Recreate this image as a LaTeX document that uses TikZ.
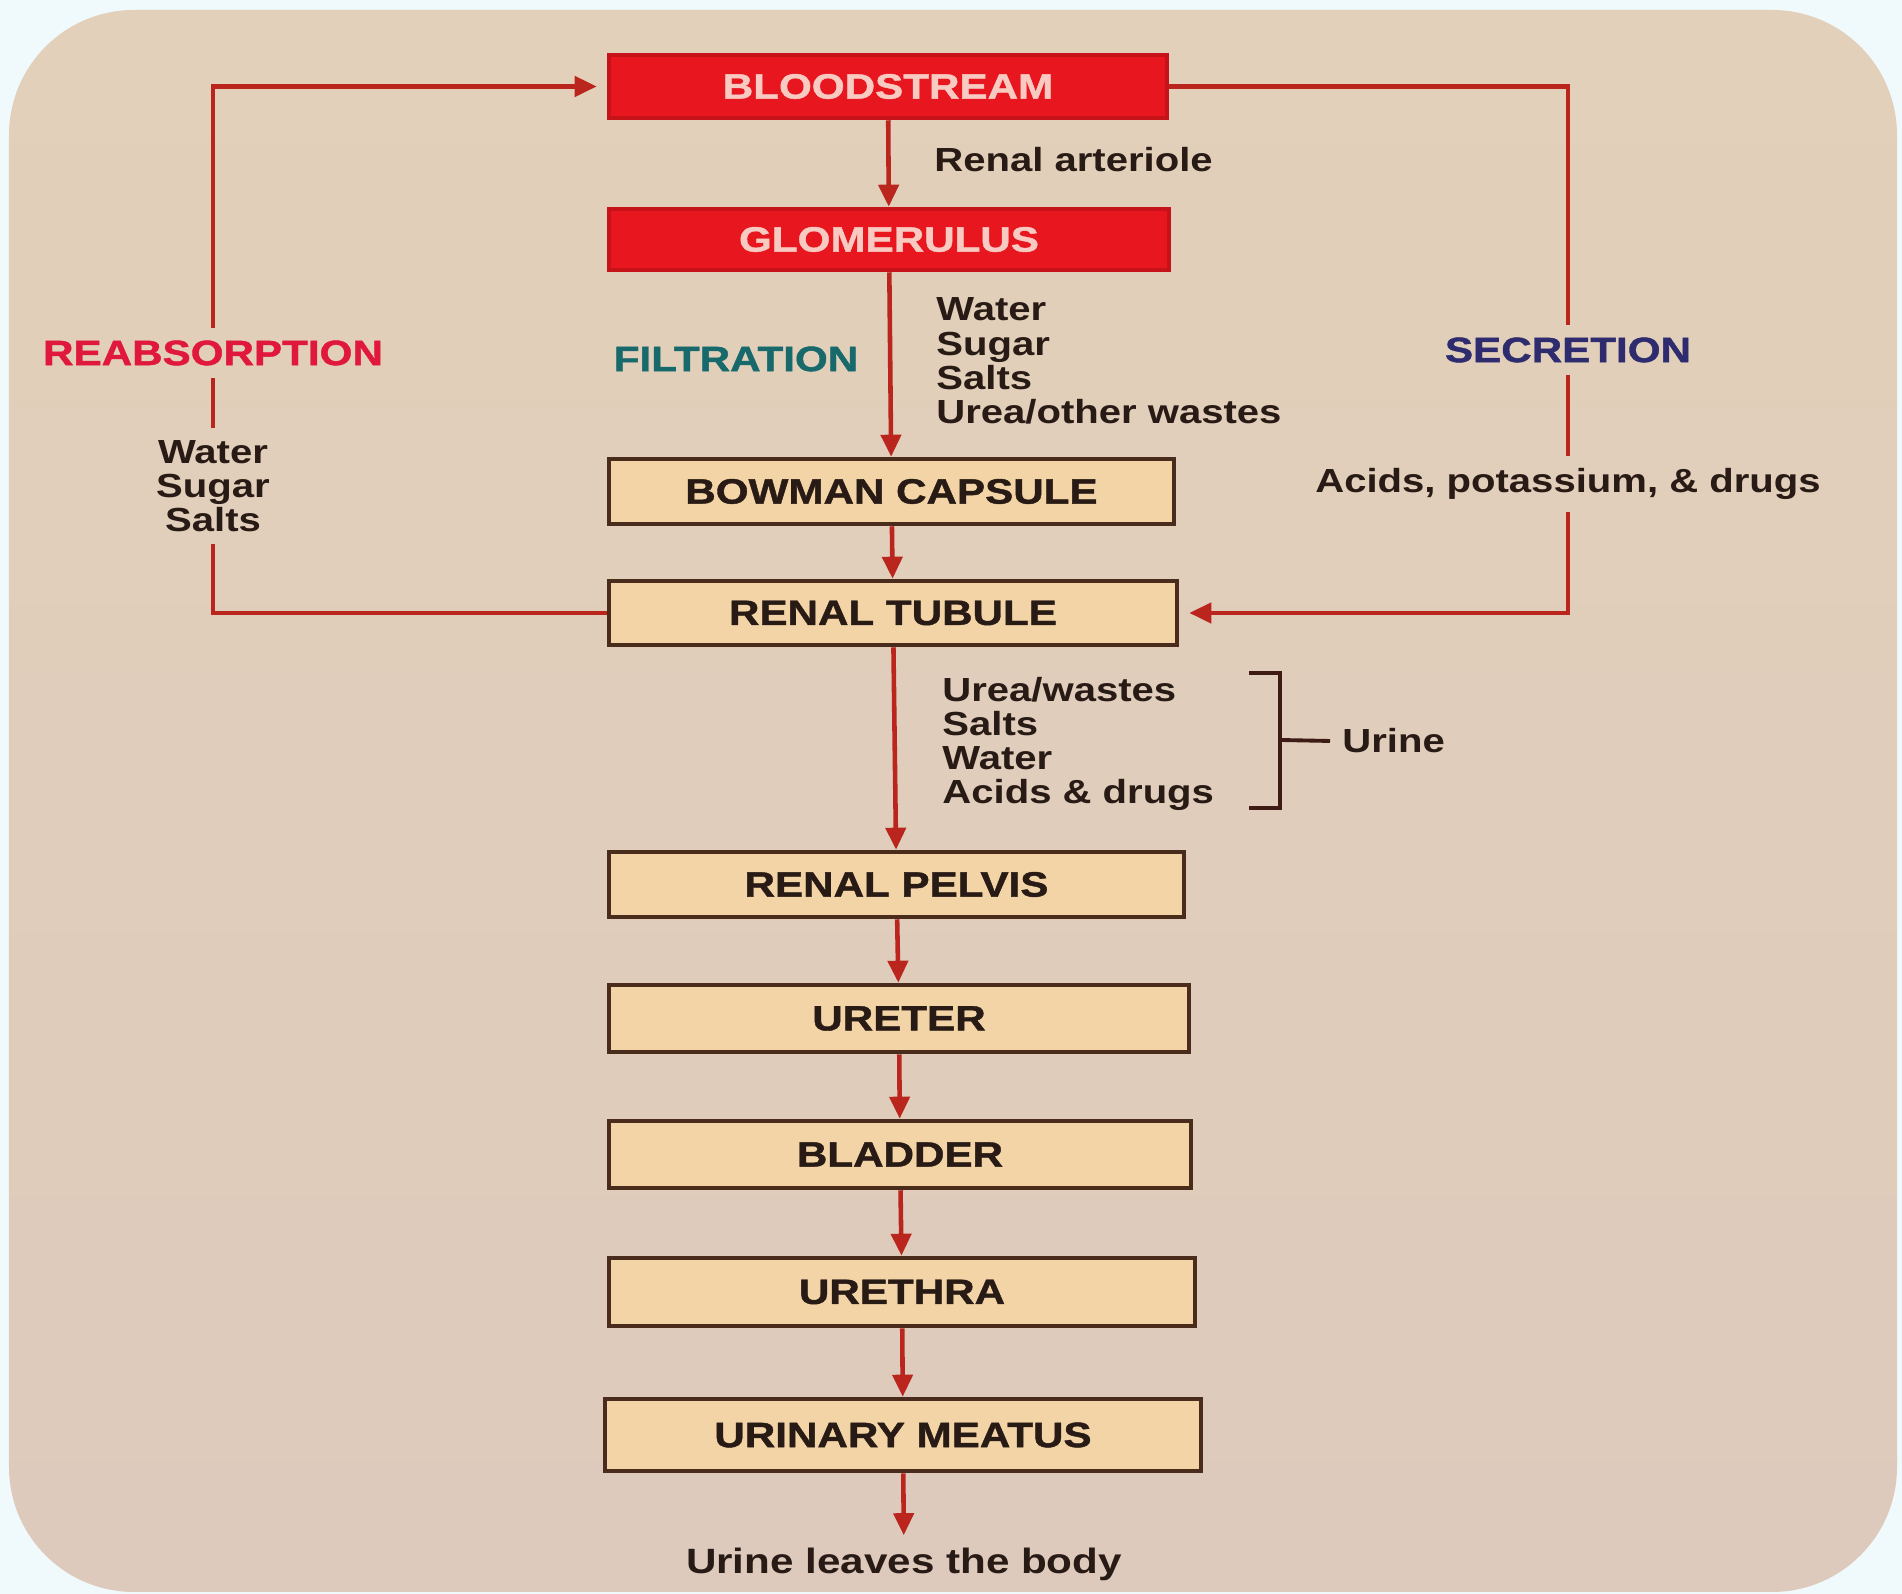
\documentclass[tikz,border=0pt]{standalone}
\usepackage{fontspec}
\setmainfont{Liberation Sans}[FakeStretch=1.2]
\newfontfamily\heavyfont{Liberation Sans}[FakeStretch=1.2, BoldFeatures={FakeBold=1.2}]
\usetikzlibrary{arrows.meta,positioning,calc}
\definecolor{kidneyoutside}{RGB}{240,250,252}
\definecolor{kidneypapertop}{RGB}{226,208,186}
\definecolor{kidneypapermid}{RGB}{236,218,208}
\definecolor{kidneypaperbot}{RGB}{222,202,188}
\definecolor{kidneyred}{RGB}{232,22,30}
\definecolor{kidneyredtext}{RGB}{248,202,194}
\definecolor{kidneytan}{RGB}{243,212,166}
\definecolor{kidneybrown}{RGB}{74,44,28}
\definecolor{kidneyarrow}{RGB}{186,38,30}
\definecolor{kidneyink}{RGB}{40,26,20}
\definecolor{kidneyreabs}{RGB}{224,24,60}
\definecolor{kidneyfilt}{RGB}{23,105,107}
\definecolor{kidneysecr}{RGB}{46,44,110}
\tikzset{
  kidney box/.style={
    draw=kidneybrown,
    fill=kidneytan,
    line width=1.3pt,
    minimum height=0.65cm,
    text=kidneyink,
    font=\heavyfont\bfseries\fontsize{10}{12}\selectfont,
  },
  blood box/.style={
    kidney box,
    draw=kidneyred!85!black,
    fill=kidneyred,
    text=kidneyredtext,
  },
  kidney arrow/.style={
    -{Triangle[length=2.2mm,width=2.0mm]},
    line width=1.3pt,
    draw=kidneyarrow,
  },
  kidney line/.style={
    line width=1.3pt,
    draw=kidneyarrow,
  },
  kidney label/.style={
    text=kidneyink,
    font=\bfseries\fontsize{9.5}{9.7}\selectfont,
    align=left,
  },
  kidney head/.style={
    font=\heavyfont\bfseries\fontsize{10}{12}\selectfont,
  },
  kidney bracket/.style={
    line width=1.1pt,
    draw=kidneyink!85!kidneyarrow,
  },
}

\begin{document}
\begin{tikzpicture}[x=1cm,y=1cm]
  % paper
  \fill[kidneyoutside] (0,0) rectangle (19.02,15.94);
  \useasboundingbox (0,0) rectangle (19.02,15.94);
  \shade[rounded corners=1.25cm, top color=kidneypapertop, middle color=kidneypapermid,
    bottom color=kidneypaperbot] (0.09,0.02) rectangle (18.97,15.84);

  % main column
  \node[blood box, minimum width=5.58cm, minimum height=0.63cm] (blood) at (8.88,15.075) {BLOODSTREAM};
  \node[blood box, minimum width=5.60cm, minimum height=0.61cm] (glom) at (8.89,13.545) {GLOMERULUS};
  \node[kidney box, minimum width=5.65cm] (bowman) at (8.915,11.025) {BOWMAN CAPSULE};
  \node[kidney box, minimum width=5.68cm, minimum height=0.64cm] (tubule) at (8.93,9.81) {RENAL TUBULE};
  \node[kidney box, minimum width=5.75cm] (pelvis) at (8.965,7.095) {RENAL PELVIS};
  \node[kidney box, minimum width=5.80cm, minimum height=0.67cm] (ureter) at (8.99,5.755) {URETER};
  \node[kidney box, minimum width=5.82cm, minimum height=0.67cm] (bladder) at (9.00,4.395) {BLADDER};
  \node[kidney box, minimum width=5.86cm, minimum height=0.68cm] (urethra) at (9.02,3.02) {URETHRA};
  \node[kidney box, minimum width=5.96cm, minimum height=0.72cm] (meatus) at (9.03,1.59) {URINARY MEATUS};
  \node[kidney label, font=\bfseries\fontsize{10}{12}\selectfont] (leave) at (9.04,0.30) {Urine leaves the body};

  % side labels
  \node[kidney label, anchor=west] (arteriole) at (9.22,14.34) {Renal arteriole};
  \node[kidney head, text=kidneyfilt] (filt) at (7.36,12.35) {FILTRATION};
  \node[kidney label, anchor=west] (filtlist) at (9.24,12.33) {Water\\Sugar\\Salts\\Urea/other wastes};
  \node[kidney head, text=kidneyreabs] (reabs) at (2.13,12.41) {REABSORPTION};
  \node[kidney label, align=center] (reabslist) at (2.13,11.08) {Water\\Sugar\\Salts};
  \node[kidney head, text=kidneysecr] (secr) at (15.68,12.44) {SECRETION};
  \node[kidney label] (acids) at (15.68,11.10) {Acids, potassium, \& drugs};
  \node[kidney label, anchor=west] (urinelist) at (9.30,8.50) {Urea/wastes\\Salts\\Water\\Acids \& drugs};
  \node[kidney label, anchor=west] (urine) at (13.30,8.53) {Urine};

  % flow down the column
  \draw[kidney arrow] (blood) -- (glom);
  \draw[kidney arrow] (glom) -- (bowman);
  \draw[kidney arrow] (bowman) -- (tubule);
  \draw[kidney arrow] (tubule) -- (pelvis);
  \draw[kidney arrow] (pelvis) -- (ureter);
  \draw[kidney arrow] (ureter) -- (bladder);
  \draw[kidney arrow] (bladder) -- (urethra);
  \draw[kidney arrow] (urethra) -- (meatus);
  \draw[kidney arrow] (meatus) -- (leave);

  % reabsorption loop
  \draw[kidney line] (tubule.west) -| (reabslist.south);
  \draw[kidney line] (reabslist.north) -- (reabs.south);
  \draw[kidney arrow, shorten >=1mm] (reabs.north) |- (blood.west);

  % secretion loop
  \draw[kidney line] (blood.east) -| (secr.north);
  \draw[kidney line] (secr.south) -- (acids.north);
  \draw[kidney arrow, shorten >=1mm] (acids.south) |- (tubule.east);

  % urine bracket
  \coordinate (brkmid) at (12.80,8.54);
  \draw[kidney bracket] (12.49,9.21) -- (12.80,9.21) -- (12.80,7.86) -- (12.49,7.86);
  \draw[kidney bracket] (brkmid) -- (urine.west);
\end{tikzpicture}
\end{document}
